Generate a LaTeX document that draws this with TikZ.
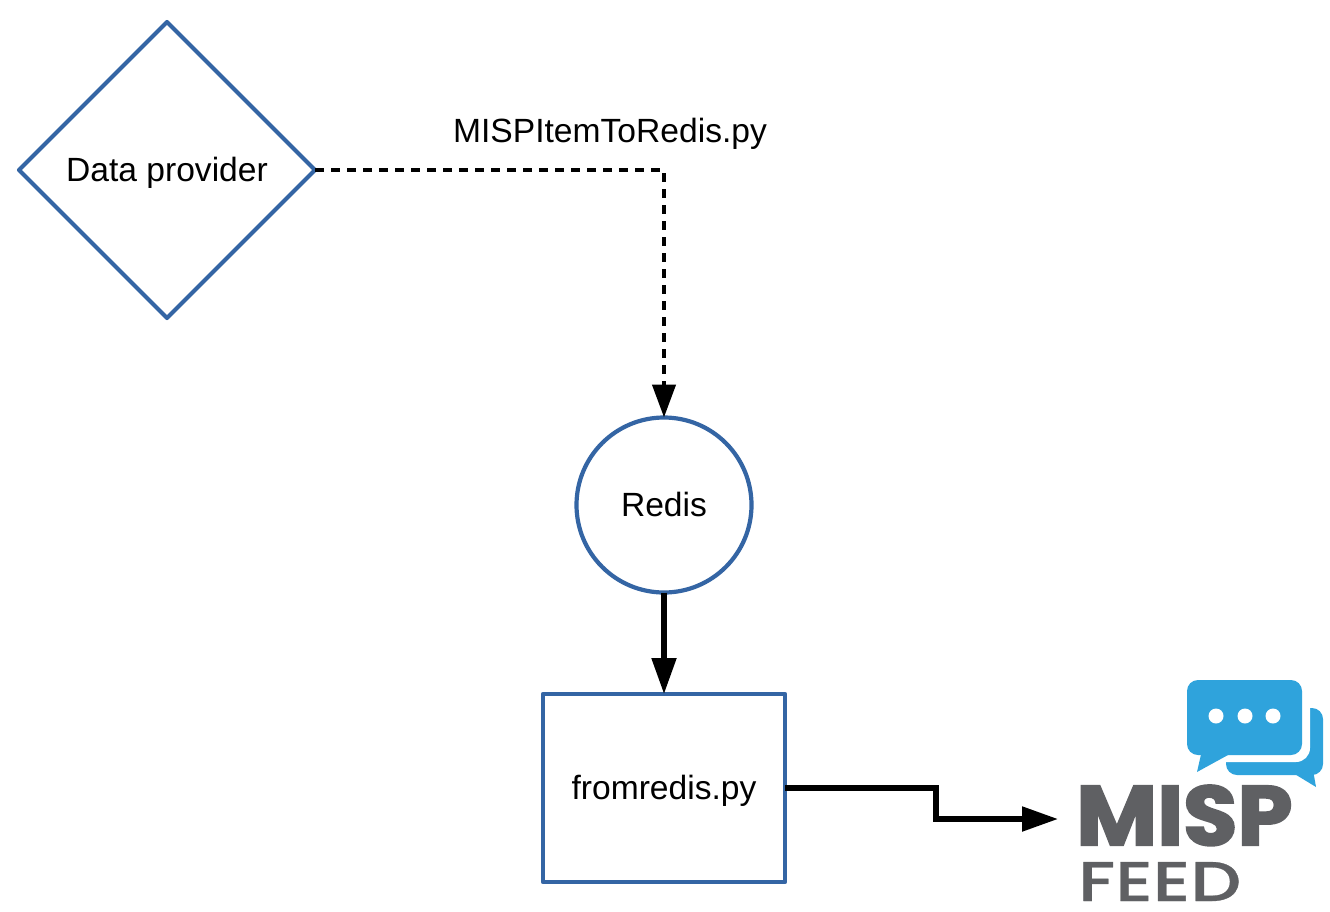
\documentclass[tikz,border=0pt]{standalone}
\usepackage{fontspec}
\setmainfont{Liberation Sans}
\newfontfamily\logofont[FakeBold=2.6]{Poppins Bold}
\newfontfamily\feedfont[FakeBold=0.5]{Poppins Medium}
\usetikzlibrary{shapes.geometric,arrows.meta}
\definecolor{edgeblue}{HTML}{3465A4}
\definecolor{bubble}{HTML}{2FA3DC}
\definecolor{logogrey}{HTML}{5F6063}
\tikzset{
  shapebox/.style={draw=edgeblue,line width=4.2pt,line join=round,fill=white,inner sep=0pt,outer sep=0pt,font=\fontsize{33.6}{38}\selectfont,text=black,text height=22pt,text depth=0pt},
  labeltext/.style={inner sep=0pt,font=\fontsize{33.6}{38}\selectfont,text=black,text height=22pt,text depth=0pt},
  logotext/.style={inner sep=0pt,text=logogrey,anchor=base west,text depth=0pt},
  link/.style={draw=black,line width=5.2pt,-{Triangle[length=36pt,width=24pt]}},
  dashlink/.style={draw=black,line width=4.4pt,dash pattern=on 9pt off 7pt,-{Triangle[length=33pt,width=23pt]}},
}
\begin{document}
\begin{tikzpicture}[x=1pt,y=-1pt]
\useasboundingbox (0,0) rectangle (1330,911);
\node[shapebox,diamond,aspect=1,minimum width=296pt,minimum height=296pt] (provider) at (167,170) {Data provider};
\node[shapebox,circle,minimum size=175pt] (redis) at (664,505) {Redis};
\node[shapebox,rectangle,minimum width=242pt,minimum height=188pt] (from) at (664,788) {fromredis.py};
\node[labeltext] (script) at (610,131) {MISPItemToRedis.py};
\coordinate (corner) at (664,170);
\coordinate (feedin) at (1058,819);
\coordinate (bendA) at (936,788);
\coordinate (bendB) at (936,819);
\draw[dashlink] (provider.east) -- (corner) -- (redis.north);
\draw[link] (redis.south) -- (from.north);
\draw[link,line join=miter] (from.east) -- (bendA) -- (bendB) -- (feedin);
% logo
\fill[bubble,rounded corners=11pt] (1226,708) rectangle (1323,775);
\fill[bubble] (1293,773) -- (1316,787) -- (1313,770) -- cycle;
\fill[white,rounded corners=14pt] (1180,690) rectangle (1310,762);
\fill[bubble,rounded corners=11pt] (1187,680) rectangle (1302,755);
\fill[bubble] (1202,750) -- (1197,772) -- (1228,755) -- cycle;
\fill[white] (1216,716) circle (7.5pt) (1245,716) circle (7.5pt) (1273,716) circle (7.5pt);
\node[logotext,xscale=1.05,text height=58pt] (misp) at (1076,845) {\logofont\fontsize{84}{90}\selectfont MISP};
\node[logotext,xscale=1.28,text height=39pt] (feed) at (1078,901) {\feedfont\fontsize{56}{60}\selectfont FEED};
\end{tikzpicture}
\end{document}
